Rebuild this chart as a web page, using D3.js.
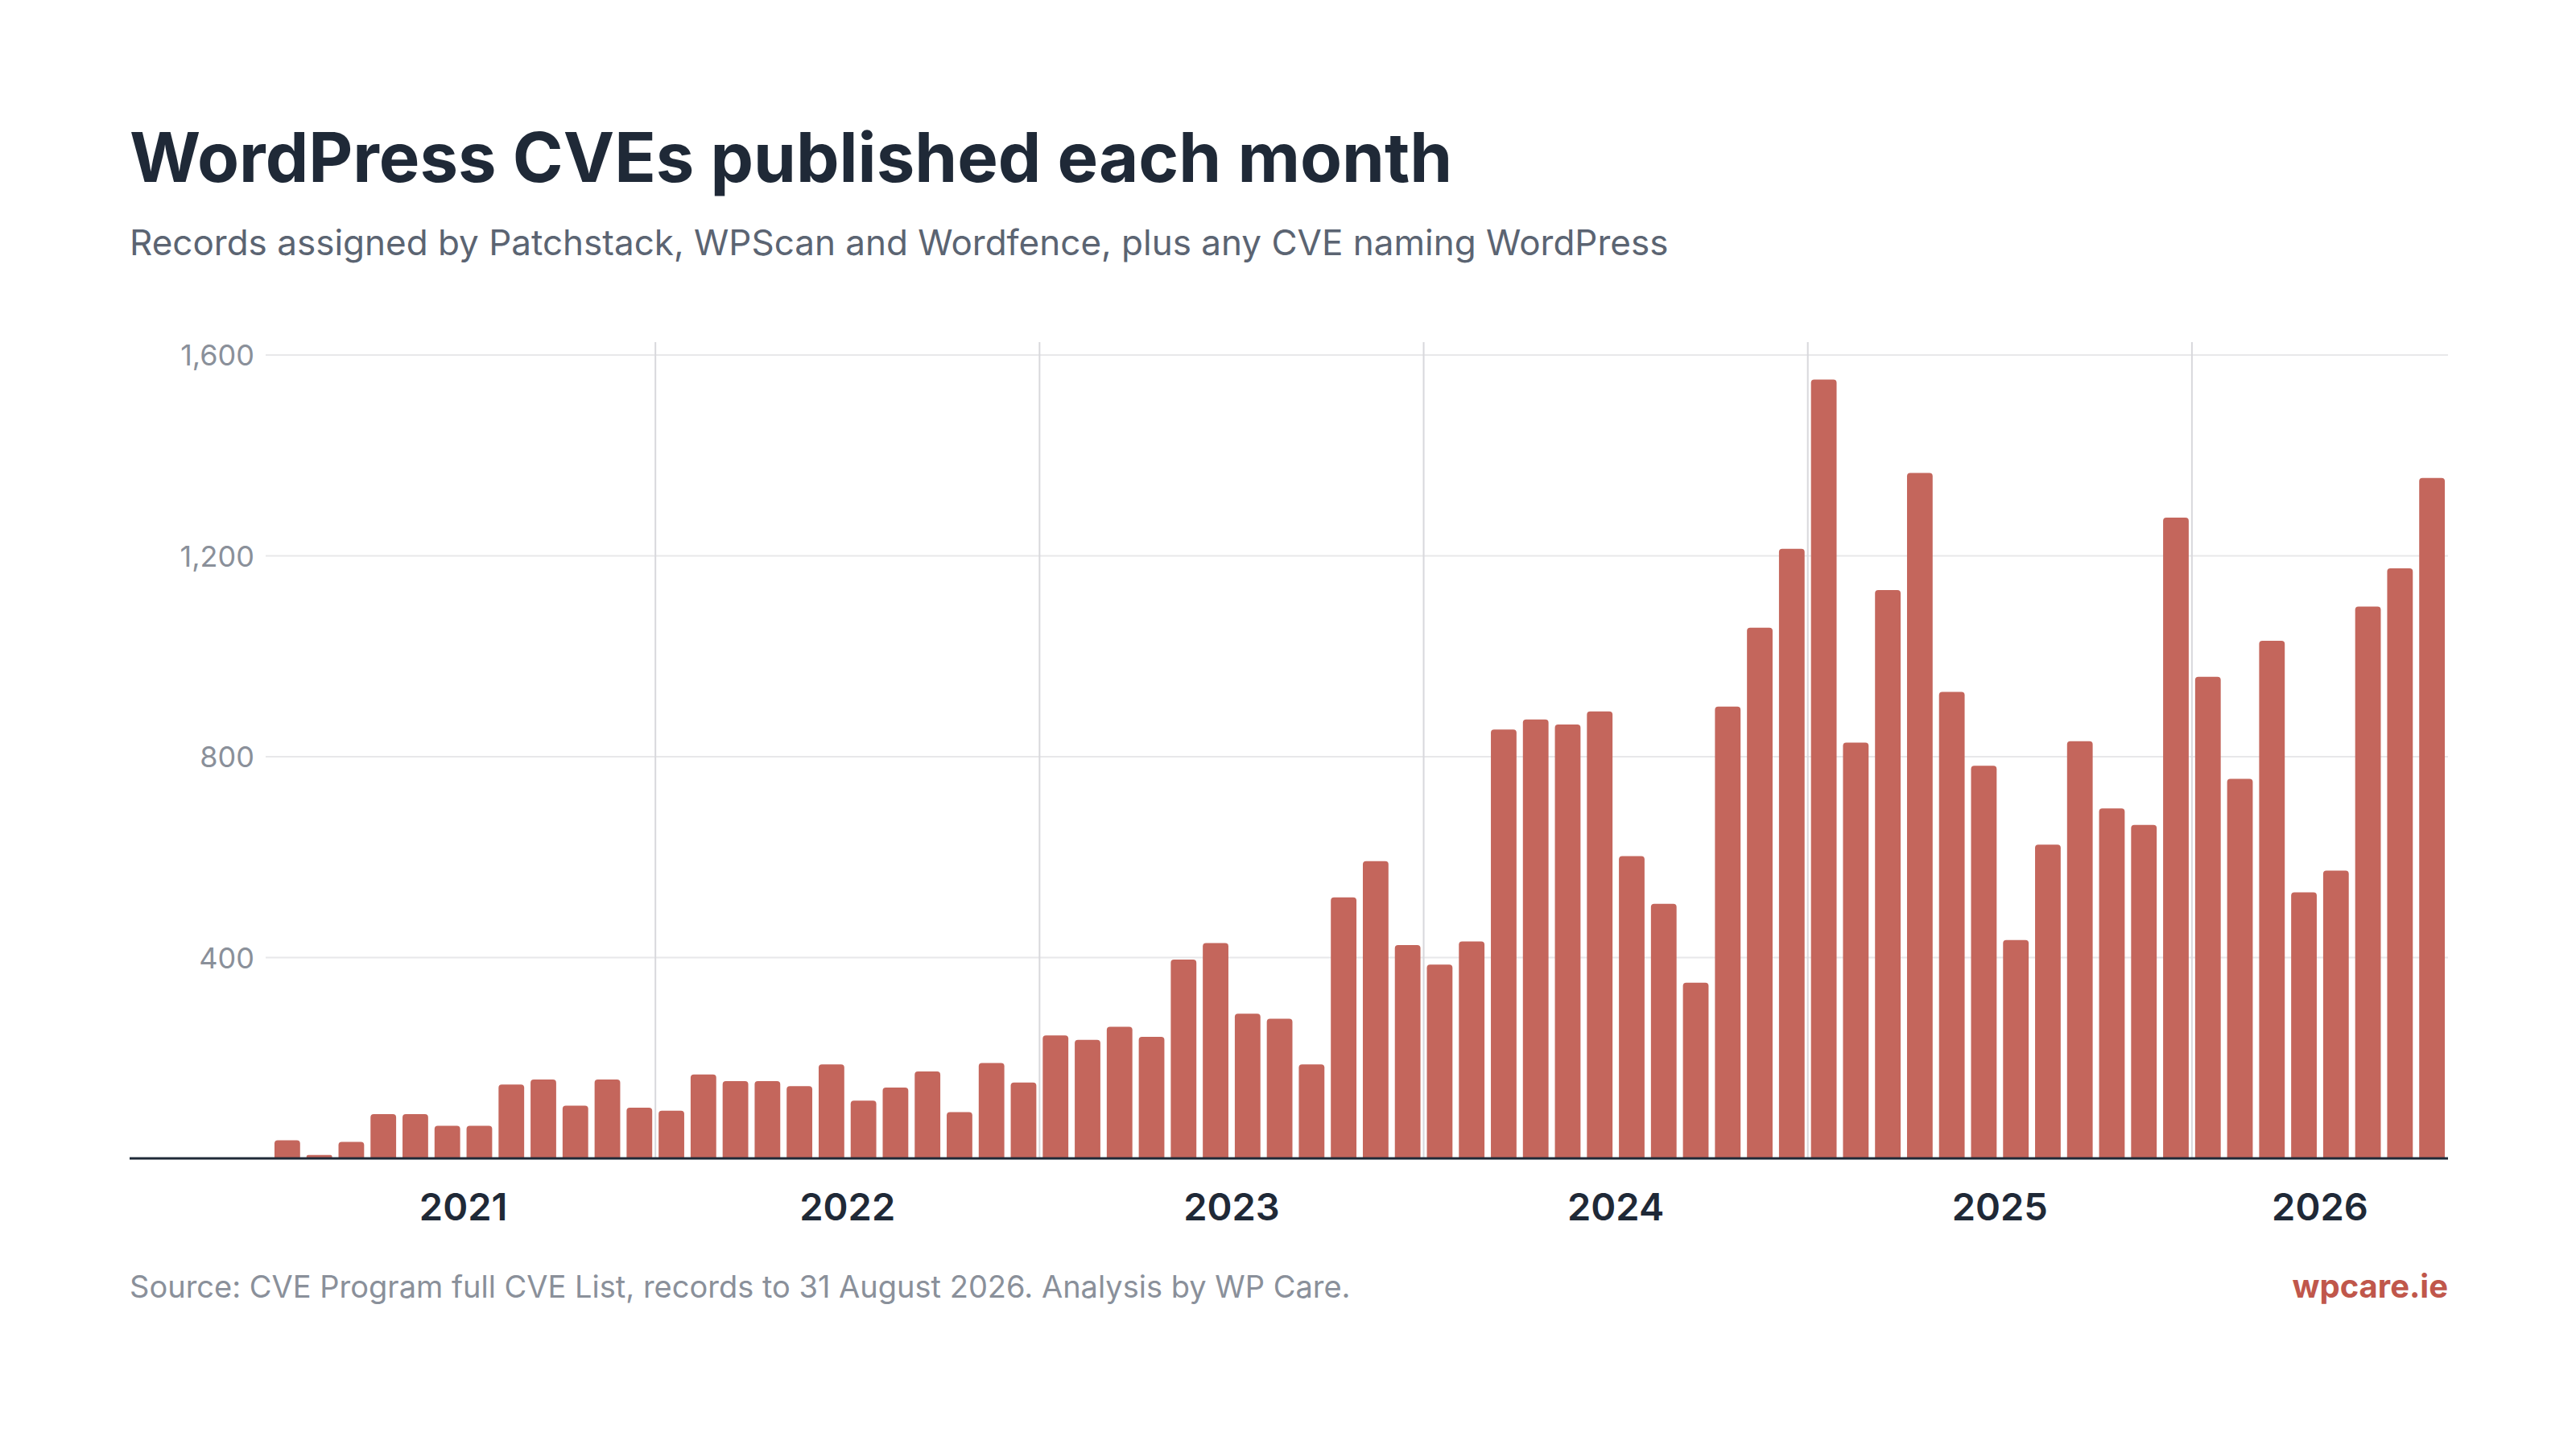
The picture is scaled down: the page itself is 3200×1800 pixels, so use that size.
<!DOCTYPE html>
<html><head><meta charset="utf-8">
<script src="https://cdn.jsdelivr.net/npm/d3@7"></script>
<style>body{margin:0;background:#fff}svg{display:block}text{font-family:Inter,"Noto Sans",sans-serif}</style>
</head><body><svg id="c" width="3200" height="1800"></svg>
<script>
const years = ["2021","2022","2023","2024","2025","2026"];
const values = [
 36,7,33,88,88,65,65,147,157,105,157,101,
 95,167,154,154,144,187,115,141,173,92,190,151,
 245,236,262,242,396,429,288,278,187,520,592,425,
 386,432,854,874,864,890,602,507,350,900,1057,1214,
 1551,828,1132,1365,929,782,435,625,831,697,664,1276,
 959,756,1031,530,573,1099,1175,1355];
const yTicks = [400,800,1200,1600];
const months = values.map((v,i)=>({i,v,year:years[Math.floor(i/12)]}));

const svg = d3.select("#c");
const L=161,R=3041,B=1439;
const x = d3.scaleBand().domain(d3.range(months.length)).range([337, R]).paddingInner(0.2).paddingOuter(0.1);
const y = d3.scaleLinear().domain([0,1600]).range([B,441]);

svg.append("text").attr("x",L).attr("y",226).attr("font-size",85).attr("font-weight",700).attr("fill","#1f2937").text("WordPress CVEs published each month");
svg.append("text").attr("x",L).attr("y",317).attr("font-size",44).attr("fill","#5b6472").text("Records assigned by Patchstack, WPScan and Wordfence, plus any CVE naming WordPress");

svg.selectAll(".g").data(yTicks).join("line").attr("x1",330).attr("x2",R).attr("y1",d=>y(d)).attr("y2",d=>y(d)).attr("stroke","#e8e8ea").attr("stroke-width",2);
svg.selectAll(".yl").data(yTicks).join("text").attr("x",316).attr("y",d=>y(d)+13).attr("text-anchor","end").attr("font-size",36).attr("fill","#8a909a").text(d3.format(","));

const step = x.step();
const yearStart = yi => x(yi*12) - (step - x.bandwidth())/2;
svg.selectAll(".yb").data(years.slice(1)).join("line").attr("x1",(d,i)=>yearStart(i+1)).attr("x2",(d,i)=>yearStart(i+1)).attr("y1",425).attr("y2",B).attr("stroke","#d8d8dc").attr("stroke-width",2);

const r=4;
svg.selectAll(".b").data(months).join("path").attr("fill","#c4665c").attr("d",d=>{
  const x0=x(d.i),w=x.bandwidth(),y0=y(d.v),h=B-y0,rr=Math.min(r,h/2);
  return `M${x0},${B}V${y0+rr}Q${x0},${y0} ${x0+rr},${y0}H${x0+w-rr}Q${x0+w},${y0} ${x0+w},${y0+rr}V${B}Z`;});

svg.append("line").attr("x1",L).attr("x2",R).attr("y1",B).attr("y2",B).attr("stroke","#1f2937").attr("stroke-width",3);

svg.selectAll(".yt").data(years).join("text").attr("text-anchor","middle").attr("font-size",47).attr("font-weight",600).attr("fill","#1f2937").attr("y",1516)
 .attr("x",d=>{const ms=months.filter(m=>m.year===d);return (x(ms[0].i)+x(ms[ms.length-1].i)+x.bandwidth())/2;}).text(d=>d);

svg.append("text").attr("x",L).attr("y",1612).attr("font-size",38).attr("fill","#8a909a").text("Source: CVE Program full CVE List, records to 31 August 2026. Analysis by WP Care.");
svg.append("text").attr("x",R).attr("y",1612).attr("text-anchor","end").attr("font-size",40).attr("font-weight",700).attr("fill","#c0574b").text("wpcare.ie");
</script></body></html>
